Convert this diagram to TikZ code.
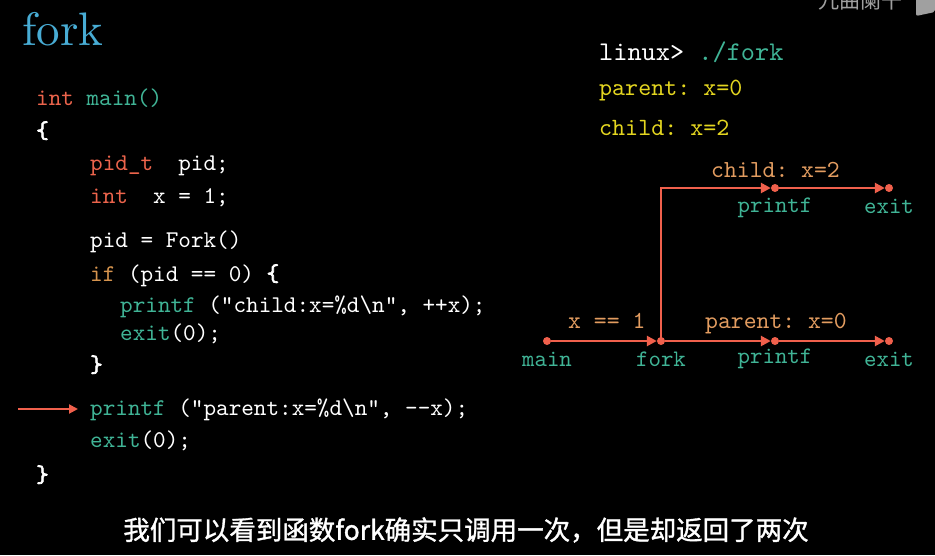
\documentclass[tikz,border=0pt]{standalone}
\usepackage{fontspec}
\newfontfamily\cjk{Noto Sans CJK SC}
\newfontfamily\cjksub[FakeBold=1.2]{Noto Sans CJK SC}
\newfontfamily\ttlfont{lmroman10-regular.otf}
\setmonofont{lmmono10-regular.otf}
\newfontfamily\bracett[FakeBold=3]{lmmono10-regular.otf}
\newcommand{\lbr}{{\bracett\{}}
\newcommand{\rbr}{{\bracett\}}}
\usetikzlibrary{arrows.meta}
\definecolor{kw}{RGB}{236,100,76}
\definecolor{fn}{RGB}{64,180,150}
\definecolor{kwif}{RGB}{214,148,78}
\definecolor{ttl}{RGB}{72,172,212}
\definecolor{yel}{RGB}{228,214,32}
\definecolor{lbl}{RGB}{226,156,96}
\definecolor{ln}{RGB}{240,96,76}
\definecolor{wm}{RGB}{160,160,160}
\begin{document}
\begin{tikzpicture}[x=1pt,y=-1pt,
  code/.style={anchor=base west, inner sep=0pt, font=\fontsize{24}{28}\ttfamily, text=white},
  outp/.style={anchor=base west, inner sep=0pt, font=\fontsize{24.8}{28}\ttfamily, text=yel},
  lab/.style={anchor=base, inner sep=0pt, font=\fontsize{23.7}{28}\ttfamily, text=fn},
  edgelab/.style={anchor=base west, inner sep=0pt, font=\fontsize{24.5}{28}\ttfamily, text=lbl},
  dot/.style={circle, fill=ln, inner sep=0pt, minimum size=8pt},
  flow/.style={draw=ln, line width=2.5pt, -{Triangle[length=10pt,width=10pt]}}
]
\fill[black] (0,0) rectangle (935,555);
\useasboundingbox (0,0) rectangle (935,555);

% title
\node[anchor=base west, inner sep=0pt, font=\ttlfont\fontsize{47}{50}\selectfont, text=ttl] (title) at (22,45) {fork};

% code
\node[code] (c1) at (36,105) {\textcolor{kw}{int} \textcolor{fn}{main()}};
\node[code] (c2) at (36,138) {\fontsize{24}{28}\lbr};
\node[code] (c3) at (90,170) {\textcolor{kw}{pid\_t}\ \ pid;};
\node[code] (c4) at (90,203) {\textcolor{kw}{int}\ \ x = 1;};
\node[code] (c5) at (90,247) {pid = Fork()};
\node[code] (c6) at (90,281) {\textcolor{kwif}{if} (pid == 0) \lbr};
\node[code] (c7) at (120,312) {\textcolor{fn}{printf} ("child:x=\%d\textbackslash n", ++x);};
\node[code] (c8) at (120,340) {\textcolor{fn}{exit}(0);};
\node[code] (c9) at (90,372) {\rbr};
\node[code] (c10) at (90,415) {\textcolor{fn}{printf} ("parent:x=\%d\textbackslash n", --x);};
\node[code] (c11) at (90,447) {\textcolor{fn}{exit}(0);};
\node[code] (c12) at (36,482) {\rbr};

\coordinate (a0) at (18,409);
\coordinate (a1) at (78,409);
\draw[draw=ln, line width=2pt, -{Triangle[length=9pt,width=9pt]}] (a0) -- (a1);

% output
\node[anchor=base west, inner sep=0pt, font=\fontsize{27}{30}\ttfamily, text=white] (o1) at (599,60) {linux> \textcolor{fn}{./fork}};
\node[outp] (o2) at (599,95) {parent: x=0};
\node[outp] (o3) at (599,135) {child: x=2};

% process graph
\node[dot] (main) at (547,341) {};
\node[dot] (fork) at (661,341) {};
\node[dot] (pprintf) at (775,341) {};
\node[dot] (pexit) at (889,341) {};
\node[dot] (cprintf) at (775,188) {};
\node[dot] (cexit) at (889,188) {};

\draw[flow] (main) -- (fork);
\draw[flow] (fork) -- (pprintf);
\draw[flow] (pprintf) -- (pexit);
\draw[flow] (fork.center) |- (cprintf);
\draw[flow] (cprintf) -- (cexit);

\node[edgelab] (l1) at (568,328) {x == 1};
\node[edgelab] (l2) at (705,328) {parent: x=0};
\node[edgelab] (l3) at (711,177) {child: x=2};

\node[lab] (n1) at (547,366) {main};
\node[lab] (n2) at (661,366) {fork};
\node[lab] (n3) at (775,363) {printf};
\node[lab] (n4) at (889,366) {exit};
\node[lab] (n5) at (775,212) {printf};
\node[lab] (n6) at (889,213) {exit};

% subtitle
\node[font=\cjksub\fontsize{26.5}{30}\selectfont, text=white] (sub) at (466,530) {我们可以看到函数fork确实只调用一次，但是却返回了两次};

% watermark
\node[anchor=base west, inner sep=0pt, font=\cjk\fontsize{21}{24}\selectfont, text=wm] (wmk) at (818,8) {九曲阑干};
\fill[wm, rounded corners=2pt] (916,-4) -- (935,-4) -- (935,12) -- (916,16) -- cycle;
\end{tikzpicture}
\end{document}
